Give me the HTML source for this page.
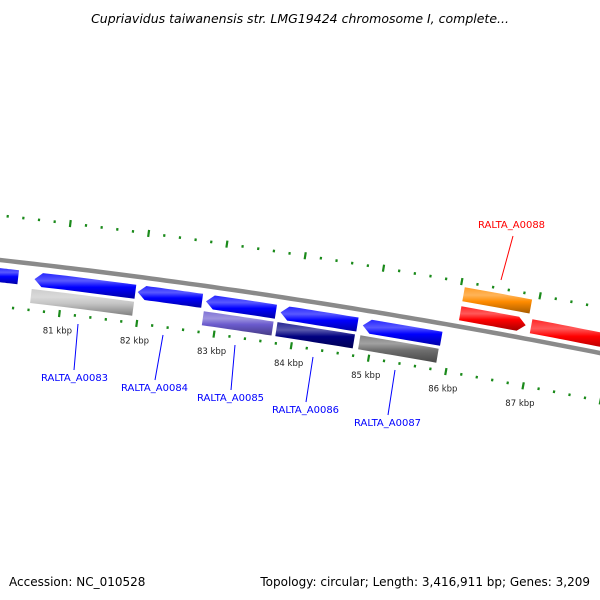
<!DOCTYPE html>
<html><head><meta charset="utf-8">
<style>
body{margin:0;background:#fff;}
svg{display:block;font-family:"DejaVu Sans","Liberation Sans",sans-serif;}
</style></head>
<body>
<svg id="map" width="600" height="600" viewBox="0 0 600 600" xmlns="http://www.w3.org/2000/svg">
<defs id="defs"></defs>
<text x="300" y="23" text-anchor="middle" font-size="12.5" font-style="italic" fill="#000">Cupriavidus taiwanensis str. LMG19424 chromosome I, complete...</text>
<g id="ticks"></g>
<path id="backbone" fill="none" stroke="#8a8a8a" stroke-width="4.5"></path>
<g id="genes"></g>
<g id="ticklabels"></g>
<g font-size="10">
 <line x1="78" y1="324" x2="74" y2="370" stroke="#0000ff" stroke-width="1"/>
 <text x="41" y="381" fill="#0000ff">RALTA_A0083</text>
 <line x1="163" y1="335" x2="155" y2="380" stroke="#0000ff" stroke-width="1"/>
 <text x="121" y="391" fill="#0000ff">RALTA_A0084</text>
 <line x1="235" y1="345" x2="231" y2="390" stroke="#0000ff" stroke-width="1"/>
 <text x="197" y="401" fill="#0000ff">RALTA_A0085</text>
 <line x1="313" y1="357" x2="306" y2="402" stroke="#0000ff" stroke-width="1"/>
 <text x="272" y="413" fill="#0000ff">RALTA_A0086</text>
 <line x1="395" y1="370" x2="388" y2="415" stroke="#0000ff" stroke-width="1"/>
 <text x="354" y="426" fill="#0000ff">RALTA_A0087</text>
 <line x1="513" y1="236" x2="501" y2="280" stroke="#ff0000" stroke-width="1"/>
 <text x="478" y="228" fill="#ff0000">RALTA_A0088</text>
</g>
<text x="9" y="586" font-size="12" fill="#000">Accession: NC_010528</text>
<text x="590" y="586" font-size="12" text-anchor="end" fill="#000">Topology: circular; Length: 3,416,911 bp; Genes: 3,209</text>
</svg>
<script>
// data
const geneStarts = [80.0, 80.63, 81.96, 82.84, 83.80, 84.86, 80.61, 82.83, 83.78, 84.85, 86.05, 86.96, 86.05];
const geneEnds   = [80.42, 81.93, 82.79, 83.74, 84.79, 85.87, 81.93, 83.73, 84.78, 85.86, 86.89, 88.2, 86.91];
const geneTracks = ['in1','in1','in1','in1','in1','in1','in2','in2','in2','in2','out1','out1','out2'];
const geneStrand = [-1,-1,-1,-1,-1,-1,0,0,0,0,1,1,0];
const geneColors = ['#0000ff','#0000ff','#0000ff','#0000ff','#0000ff','#0000ff','#c4c4c4','#6a5acd','#000080','#6e6e6e','#ff0000','#ff0000','#ff8c00'];
const tickKbp = [81,82,83,84,85,86,87];
const tickLabels = ['81 kbp','82 kbp','83 kbp','84 kbp','85 kbp','86 kbp','87 kbp'];

const NS='http://www.w3.org/2000/svg';
function yb(x){return 260+0.1117*x+7.22e-5*x*x;}
function sl(x){return 0.1117+2*7.22e-5*x;}
function kx(k){return 65+(k-81)*77.8;}
function P(k,d){const x0=kx(k);return [x0+sl(x0)*d, yb(x0)-d];}
const tracks={in1:[-8,-22],in2:[-25,-39],out1:[20,6],out2:[39,25]};
const svg=document.getElementById('map');
// backbone
let bp='';for(let k=79.5;k<=88.5;k+=0.1){const p=P(k,0);bp+=(bp?'L':'M')+p[0].toFixed(1)+','+p[1].toFixed(1);}
document.getElementById('backbone').setAttribute('d',bp);
// ticks
const tg=document.getElementById('ticks');
for(let i=0;i<=45;i++){
  const k=79.8+i*0.2;const big=Math.abs(k-Math.round(k))<0.01;
  [44,-46].forEach(d=>{
    const h=big?3.5:1.3;const a=P(k,d+h),b=P(k,d-h);
    const l=document.createElementNS(NS,'line');
    
    
    l.setAttribute('x1',a[0]);l.setAttribute('y1',a[1]);l.setAttribute('x2',b[0]);l.setAttribute('y2',b[1]);
    l.setAttribute('stroke','#1a8a1a');l.setAttribute('stroke-width','2.2');
    tg.appendChild(l);
  });
}
const tl=document.getElementById('ticklabels');
tickKbp.forEach((k,i)=>{const p=P(k,-63);
  const t=document.createElementNS(NS,'text');
  
  
  t.setAttribute('x',p[0]);t.setAttribute('y',p[1]+3);t.setAttribute('text-anchor','middle');
  t.setAttribute('font-size','8.5');t.setAttribute('fill','#222');t.textContent=tickLabels[i];tl.appendChild(t);});
// genes
const defs=document.getElementById('defs');const gg=document.getElementById('genes');
function shade(c,f){const n=parseInt(c.slice(1),16);let r=n>>16,g=(n>>8)&255,b=n&255;
 const m=v=>Math.max(0,Math.min(255,Math.round(f>0?v+(255-v)*f:v*(1+f))));return `rgb(${m(r)},${m(g)},${m(b)})`;}
geneStarts.forEach((s,i)=>{
  const e=geneEnds[i];const [d1,d2]=tracks[geneTracks[i]];const st=geneStrand[i];
  const head=0.1;const dm=(d1+d2)/2;
  let pts=[];const N=12;
  let a=s,b=e;if(st===-1)a=s+head;if(st===1)b=e-head;
  for(let j=0;j<=N;j++)pts.push(P(a+(b-a)*j/N,d1));
  if(st===1)pts.push(P(e,dm));
  for(let j=N;j>=0;j--)pts.push(P(a+(b-a)*j/N,d2));
  if(st===-1)pts.push(P(s,dm));
  const id='g'+i;const lg=document.createElementNS(NS,'linearGradient');
  lg.setAttribute('id',id);lg.setAttribute('x1','0');lg.setAttribute('y1','0');lg.setAttribute('x2','0');lg.setAttribute('y2','1');
  const c=geneColors[i];
  [[0,shade(c,0.15)],[0.3,shade(c,0.35)],[0.55,c],[1,shade(c,-0.35)]].forEach(([o,col])=>{
    const so=document.createElementNS(NS,'stop');so.setAttribute('offset',o);so.setAttribute('stop-color',col);lg.appendChild(so);});
  defs.appendChild(lg);
  const pg=document.createElementNS(NS,'polygon');
  
  
  pg.setAttribute('points',pts.map(p=>p[0].toFixed(1)+','+p[1].toFixed(1)).join(' '));
  pg.setAttribute('fill','url(#'+id+')');gg.appendChild(pg);
});
</script>
</body></html>
